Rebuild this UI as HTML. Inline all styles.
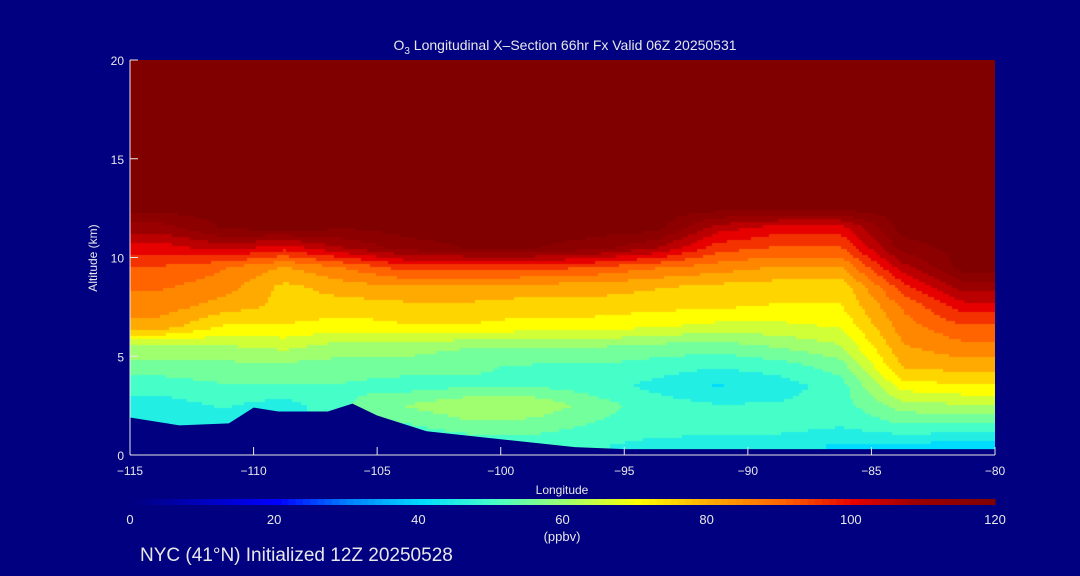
<!DOCTYPE html>
<html><head><meta charset="utf-8"><style>
body{margin:0;background:#000080;width:1080px;height:576px;overflow:hidden;font-family:"Liberation Sans",sans-serif;color:#e8e8e8}
#wrap{position:relative;width:1080px;height:576px}
canvas{position:absolute;left:130px;top:60px}
svg{position:absolute;left:0;top:0}
text{fill:#e8e8e8;font-family:"Liberation Sans",sans-serif}
</style></head><body><div id="wrap">
<canvas id="cv" width="865" height="395"></canvas>
<svg id="sv" width="1080" height="576"></svg>
</div>
<script>
const lons=[-113.75,-111.25,-108.75,-106.25,-103.75,-101.25,-98.75,-96.25,-93.75,-91.25,-88.75,-86.25,-83.75,-81.25];
const alts=[19.5,18.5,17.5,16.5,15.5,14.5,13.5,12.5,11.5,10.5,9.5,8.5,7.5,6.5,5.5,4.5,3.5,2.5,1.5,0.5];
const T=[120,120,120,120,120,120,120,120,120,120,120,120,120,120];
const ozone=[T,T,T,T,T,T,T,T,
[110,118,120,118,120,120,120,120,120,105,100,100,120,120],
[100,105,100,108,115,118,118,115,108,95,92,92,115,120],
[92,88,82,88,95,95,95,92,88,85,82,82,105,120],
[88,85,76,80,82,82,80,80,78,76,75,74,95,110],
[85,80,76,75,76,76,75,75,74,73,72,72,88,100],
[80,72,72,70,72,72,70,70,68,66,66,68,85,92],
[62,62,64,60,60,58,58,58,56,55,58,62,82,86],
[55,56,56,55,55,53,52,52,50,48,50,55,78,80],
[50,52,52,52,50,52,52,50,46,42,45,50,70,72],
[45,48,45,52,58,62,62,55,50,48,48,50,60,62],
[42,45,45,50,52,56,55,52,50,50,50,48,52,52],
[40,40,40,45,45,48,50,48,46,45,44,42,42,40]];
const terrainLon=[-115,-113,-111,-110,-109,-107,-106,-105,-103,-100,-97,-95,-90,-80];
const terrainAlt=[1.9,1.5,1.6,2.4,2.2,2.2,2.6,2.0,1.2,0.8,0.4,0.3,0.3,0.3];
const xTicks=[-115,-110,-105,-100,-95,-90,-85,-80];
const yTicks=[0,5,10,15,20];
const cbTicks=[0,20,40,60,80,100,120];

const X0=130,X1=995,Y0=455,Y1=60;
const xs=l=>X0+(l+115)/35*(X1-X0);
const ys=a=>Y0-a/20*(Y0-Y1);
const stops=[[0,[0,0,130]],[20,[0,0,255]],[30,[0,130,255]],[40,[0,220,255]],[50,[70,255,200]],[60,[160,255,110]],[70,[255,255,0]],[80,[255,170,0]],[90,[255,100,0]],[100,[230,0,0]],[108,[160,0,0]],[120,[128,0,0]]];
function col(v){v=Math.max(0,Math.min(120,v));for(let i=1;i<stops.length;i++){if(v<=stops[i][0]){const a=stops[i-1],b=stops[i],t=(v-a[0])/(b[0]-a[0]);return a[1].map((c,k)=>Math.round(c+(b[1][k]-c)*t));}}return stops[stops.length-1][1];}
function sample(lon,alt){
  let fi=(lon-lons[0])/2.5, fj=(alts[0]-alt);
  fi=Math.max(0,Math.min(lons.length-1,fi)); fj=Math.max(0,Math.min(alts.length-1,fj));
  const i=Math.min(Math.floor(fi),lons.length-2), j=Math.min(Math.floor(fj),alts.length-2);
  const u=fi-i,w=fj-j;
  return ozone[j][i]*(1-u)*(1-w)+ozone[j][i+1]*u*(1-w)+ozone[j+1][i]*(1-u)*w+ozone[j+1][i+1]*u*w;
}
const cv=document.getElementById('cv'),ctx=cv.getContext('2d');
const S=3;
for(let px=0;px<865;px+=S)for(let py=0;py<395;py+=S){
  const lon=-115+(px+S/2)/865*35, alt=20-(py+S/2)/395*20;
  let v=sample(lon,alt); v=Math.round(v/5)*5;
  const c=col(v); ctx.fillStyle=`rgb(${c[0]},${c[1]},${c[2]})`; ctx.fillRect(px,py,S,S);
}
const NS='http://www.w3.org/2000/svg',sv=document.getElementById('sv');
function el(t,a,txt){const e=document.createElementNS(NS,t);for(const k in a)e.setAttribute(k,a[k]);if(txt!==undefined)e.textContent=txt;sv.appendChild(e);return e;}
let d='M'+xs(-115)+','+ys(0);
terrainLon.forEach((l,i)=>{d+=' L'+xs(l)+','+ys(terrainAlt[i]);});
d+=' L'+xs(-80)+','+ys(0)+' Z';
const ter=el('path',{d:d,fill:'#000080'});


el('line',{x1:X0,y1:Y0,x2:X1,y2:Y0,stroke:'#e8e8e8'});
el('line',{x1:X0,y1:Y0,x2:X0,y2:Y1,stroke:'#e8e8e8'});
xTicks.forEach(t=>{el('line',{x1:xs(t),y1:Y0,x2:xs(t),y2:Y0-8,stroke:'#e8e8e8'});
 const tx=el('text',{x:xs(t),y:475,'text-anchor':'middle','font-size':12},(t<0?'\u2212'+(-t):t));
 
 });
yTicks.forEach(t=>{el('line',{x1:X0,y1:ys(t),x2:X0+8,y2:ys(t),stroke:'#e8e8e8'});
 const tx=el('text',{x:124,y:ys(t)+5,'text-anchor':'end','font-size':12},t);
 
 });
const xt=el('text',{x:562,y:494,'text-anchor':'middle','font-size':12},'Longitude');


const yt=el('text',{x:97,y:258,'text-anchor':'middle','font-size':12,transform:'rotate(-90 97 258)'},'Altitude (km)');


const ti=el('text',{x:565,y:50,'text-anchor':'middle','font-size':14});


ti.innerHTML='O<tspan font-size="10" dy="4">3</tspan><tspan dy="-4"> Longitudinal X\u2013Section 66hr  Fx Valid 06Z 20250531</tspan>';
for(let v=0;v<120;v+=1){const c=col(v);el('rect',{x:130+v/120*865,y:499,width:865/120+0.6,height:6,fill:`rgb(${c})`});}
cbTicks.forEach(t=>{const tx=el('text',{x:130+t/120*865,y:524,'text-anchor':'middle','font-size':13},t);
 
 });
const un=el('text',{x:562,y:541,'text-anchor':'middle','font-size':13},'(ppbv)');


const ft=el('text',{x:140,y:561,'font-size':19,fill:'#d8e8ff'},'NYC (41\u00b0N) Initialized 12Z 20250528');


</script></body></html>
